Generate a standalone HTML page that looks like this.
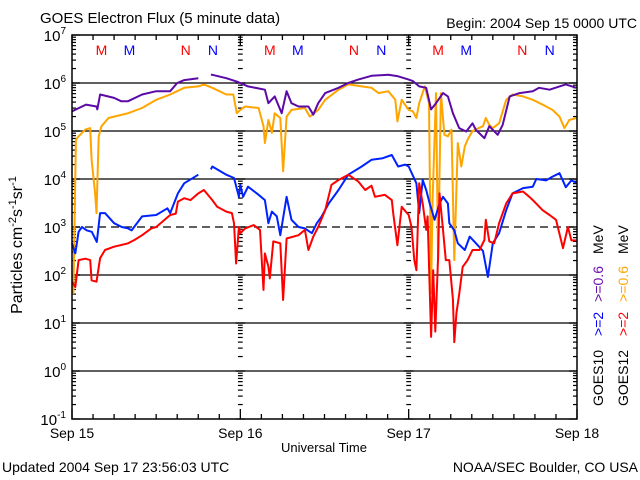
<!DOCTYPE html>
<html><head><meta charset="utf-8"><style>
html,body{margin:0;padding:0;background:#fff;}
svg{display:block;font-family:"Liberation Sans",sans-serif;}
</style></head><body>
<svg id="chart" width="640" height="480" viewBox="0 0 640 480">
<text x="40" y="23" font-size="15">GOES Electron Flux (5 minute data)</text>
<text x="637" y="28" font-size="14" text-anchor="end">Begin: 2004 Sep 15 0000 UTC</text>
<text transform="translate(22,245) rotate(-90)" font-size="16" text-anchor="middle">Particles cm<tspan dy="-6" font-size="11">-2</tspan><tspan dy="6">s</tspan><tspan dy="-6" font-size="11">-1</tspan><tspan dy="6">sr</tspan><tspan dy="-6" font-size="11">-1</tspan></text>
<text x="324" y="452" font-size="13" text-anchor="middle">Universal Time</text>
<text x="2" y="472" font-size="14">Updated 2004 Sep 17 23:56:03 UTC</text>
<text x="638" y="472" font-size="14" text-anchor="end">NOAA/SEC Boulder, CO USA</text>
<g id="grid"></g><g id="ticks"></g><g id="series"></g><g id="labels"></g>
<rect x="72" y="35" width="505" height="384" fill="none" stroke="#000" stroke-width="1.5"/>
<text transform="translate(603,406) rotate(-90)" font-size="14"><tspan fill="#000">GOES10</tspan><tspan fill="#0000ff" dx="14">&gt;=2</tspan><tspan fill="#6a0dad" dx="10">&gt;=0.6</tspan><tspan fill="#000" dx="12">MeV</tspan></text>
<text transform="translate(628,406) rotate(-90)" font-size="14"><tspan fill="#000">GOES12</tspan><tspan fill="#ff0000" dx="14">&gt;=2</tspan><tspan fill="#ffa500" dx="10">&gt;=0.6</tspan><tspan fill="#000" dx="12">MeV</tspan></text>
</svg>
<script>
const yTicks=[7,6,5,4,3,2,1,0,-1];
const dayLabels=["Sep 15","Sep 16","Sep 17","Sep 18"];
const markerLabels=["M","M","N","N"];
const markerHours=[4.2,8.2,16.2,20.1];
const p10T=[0,2,3.5,3.6,4,6,7,8,10,12,14,15,16,18,null,19.8,20,22,23.5,24,25.1,27.5,28,28.9,29.9,30.6,31.3,32.3,33.7,34.4,35.1,36.1,38,39.4,40.8,42.7,45.1,46.5,48,48.6,49.5,50.5,51.2,51.9,52.9,53.6,54.3,55.2,56.2,57.1,57.6,58.8,59.5,60.7,61.4,62.4,63.8,65.7,66.6,68.1,69.5,70.4,71.9];
const p10V=[5.41,5.55,5.51,5.45,5.76,5.69,5.62,5.62,5.76,5.83,5.83,6.0,6.06,6.1,null,6.17,6.17,6.1,6.03,6.0,5.93,5.86,5.58,5.72,5.37,5.83,5.58,5.51,5.51,5.34,5.58,5.79,5.9,6.0,6.07,6.15,6.17,6.14,6.07,6.04,5.93,5.9,5.45,5.58,5.79,5.72,5.37,5.06,4.99,5.16,5.02,4.85,5.1,4.92,5.13,5.72,5.79,5.83,5.9,5.86,5.93,5.97,5.9];
const p12T=[0,0.2,0.56,0.94,1.9,2.6,2.8,3.3,3.5,3.8,4.2,5.2,6,8,10,12,14,16,18,18.8,20,22,23,23.5,24,24.7,26.6,27.3,27.5,28,28.5,28.9,29.7,30.1,30.6,31.3,33.2,33.9,35.1,36.1,38,39.4,41.3,42.7,43.7,45.1,46.1,46.4,47,48,48.6,49.1,49.5,50.3,50.9,51.2,51.4,51.9,52.2,52.6,53.1,53.6,54.1,54.5,55,55.5,56,56.4,57.1,58.6,59,59.5,60,60.9,61.9,62.8,64.3,65.7,67.1,68.5,69.5,70.2,70.9,71.9];
const p12V=[1.62,1.62,4.82,4.89,5.03,5.06,4.4,3.7,3.29,4.89,5.1,5.27,5.3,5.37,5.48,5.65,5.76,5.9,5.93,5.97,5.9,5.76,5.76,5.37,5.44,5.51,5.48,5.1,4.75,5.23,4.96,5.37,5.27,4.16,5.3,5.44,5.48,5.3,5.44,5.65,5.86,5.97,5.93,5.9,5.79,5.83,5.65,5.2,5.65,5.44,5.41,5.27,5.58,5.93,5.58,1.62,3.5,5.79,2.3,5.79,4.92,4.89,5.03,2.31,4.75,4.26,4.68,4.82,5.0,5.1,5.27,5.13,5.06,5.16,5.65,5.76,5.72,5.65,5.55,5.44,5.3,5.06,5.23,5.27];
const e10T=[0,0.47,0.94,1.41,2.12,2.82,3.53,4,4.7,6,7.1,8,8.5,10,12,13.6,14,15.1,16,18,null,19.8,20,22,23.1,23.8,24,24.4,25.1,26.6,27.5,28,28.5,29.2,29.7,30.6,31.3,32.3,33.2,34.2,34.9,35.6,36.6,38,39.4,41.3,42.7,44.2,45.6,46.5,47.5,48,49.1,49.5,50,50.5,51,51.7,52.4,52.9,53.6,53.8,54.5,55,56,56.7,57.6,58.6,59.3,60,60.9,61.9,62.8,64.3,65.7,66.2,67.6,68.5,69.5,70.4,71.2,71.9];
const e10V=[2.66,2.45,2.9,3.0,2.93,2.9,2.69,3.29,3.29,3.08,3.0,2.97,2.93,3.22,3.25,3.39,3.29,3.7,3.91,4.09,null,4.2,4.26,4.09,4.02,3.63,3.88,3.63,3.84,3.67,3.56,3.08,3.32,3.22,2.83,3.63,3.15,3.0,2.97,2.87,3.08,3.22,3.49,3.77,4.09,4.26,4.4,4.43,4.5,4.26,4.3,4.26,3.91,3.29,3.98,3.77,3.49,3.15,3.49,3.63,3.49,3.08,2.93,2.66,2.52,2.8,2.66,2.5,1.96,2.66,2.87,3.35,3.7,3.81,3.84,4.0,3.97,4.05,4.12,3.83,3.97,3.92];
const e12T=[0,0.47,0.94,1.9,2.6,2.8,3.5,4,4.7,6,8,8.9,10,11.3,12,14,14.8,15.1,16,16.9,18,18.8,20,20.7,22,22.8,23.1,23.4,23.8,24,24.7,25.9,26.8,27.3,27.5,28,28.2,28.7,29.7,30.1,30.6,32.3,33.2,33.7,34.4,35.1,36.1,37,38,39.4,40.8,41.8,42.7,43.2,44.6,45.6,45.8,46.4,47,47.7,48,48.4,48.8,49.1,49.5,50,50.5,50.7,51.2,51.5,51.8,52.2,52.4,52.9,53.3,53.8,54.3,54.5,54.8,55.2,55.7,56.4,57.1,58.1,58.8,59,59.5,60.2,60.9,61.9,62.8,64.3,65.2,65.7,67.1,68.1,69,70,70.7,71.2,71.9];
const e12V=[1.86,1.75,2.31,2.34,2.31,1.89,1.86,2.35,2.52,2.59,2.66,2.73,2.83,2.97,3.0,3.25,3.28,3.53,3.6,3.56,3.7,3.77,3.56,3.42,3.32,3.29,3.08,2.24,3.0,2.87,2.97,3.04,2.94,1.69,2.45,2.17,1.93,2.7,2.66,1.48,2.76,2.83,2.94,2.52,2.8,3.0,3.35,3.88,3.98,4.09,3.95,3.77,3.86,3.63,3.67,3.56,3.29,2.62,3.42,3.3,3.25,3.0,2.31,2.1,3.91,3.49,2.94,3.22,0.71,2.1,0.82,2.38,3.7,2.94,2.31,2.31,1.5,0.6,1.2,1.6,2.17,2.31,2.52,2.52,2.73,3.15,2.7,2.66,3.08,3.49,3.7,3.74,3.63,3.56,3.35,3.25,3.15,2.56,3.0,2.72,2.72];

const NS="http://www.w3.org/2000/svg";
const X0=72,X1=577,Y0=35,Y1=419;
const xs=h=>X0+(X1-X0)*h/72;
const ys=v=>Y1-(Y1-Y0)*(v+1)/8;
function mk(tag,attrs,parent){const e=document.createElementNS(NS,tag);for(const k in attrs)e.setAttribute(k,attrs[k]);document.getElementById(parent).appendChild(e);return e;}

yTicks.forEach((t,i)=>{
  if(t<7&&t>-1){
    const l=mk('line',{x1:X0,x2:X1,y1:ys(t),y2:ys(t),stroke:'#000','stroke-width':1.3},'grid');
    if(t===3)l.setAttribute('stroke-dasharray','8,5');
    
    
  }
  const tx=mk('text',{x:66,y:ys(t)+6,'font-size':15,'text-anchor':'end'},'labels');
  tx.innerHTML='10<tspan dy="-7" font-size="10">'+t+'</tspan>';
  
  
});
const tickCols=[[X0,0,1,1],[X1,-1,0,1],[xs(24),-0.6,0.6,0.6],[xs(48),-0.6,0.6,0.6]];
for(let d=-1;d<7;d++){for(let m=1;m<=10;m++){
  const v=d+Math.log10(m); const y=ys(v); const len=(m===1||m===10)?8:4;
  tickCols.forEach(c=>{
    const tk=mk('line',{x1:c[0]+c[1]*len,x2:c[0]+c[2]*len,y1:y,y2:y,stroke:'#000','stroke-width':1.2},'ticks');
    
    
  });
}}
for(let h=0;h<=72;h+=3){
  const len=(h%24===0)?10:5;
  const a=mk('line',{x1:xs(h),x2:xs(h),y1:Y1,y2:Y1-len,stroke:'#000','stroke-width':1.3},'ticks');
  
  
  const b=mk('line',{x1:xs(h),x2:xs(h),y1:Y0,y2:Y0+len,stroke:'#000','stroke-width':1.3},'ticks');
  
  
}
dayLabels.forEach((s,i)=>{
  const t=mk('text',{x:xs(i*24),y:438,'font-size':14,'text-anchor':'middle'},'labels');
  t.textContent=s;
  
  
});
for(let d=0;d<3;d++){markerHours.forEach((h,i)=>{
  const t=mk('text',{x:xs(d*24+h),y:55,'font-size':14,'text-anchor':'middle',fill:(i%2===0)?'#ff0000':'#0000ff'},'labels');
  t.textContent=markerLabels[i];
  
  
});}
function draw(T,V,color,name){
  let d='',pen=false;
  for(let i=0;i<T.length;i++){
    if(T[i]===null||V[i]===null){pen=false;continue;}
    const x=xs(T[i]),y=ys(V[i]);
    d+=(pen?'L':'M')+x.toFixed(1)+' '+y.toFixed(1);pen=true;
  }
  const p=mk('path',{d:d,fill:'none',stroke:color,'stroke-width':2,'stroke-linejoin':'round'},'series');
  
  
}
draw(p12T,p12V,'#ffa500','series-goes12-0p6mev');
draw(p10T,p10V,'#5b0aa8','series-goes10-0p6mev');
draw(e10T,e10V,'#0022ff','series-goes10-2mev');
draw(e12T,e12V,'#ff0000','series-goes12-2mev');
</script>
</body></html>
